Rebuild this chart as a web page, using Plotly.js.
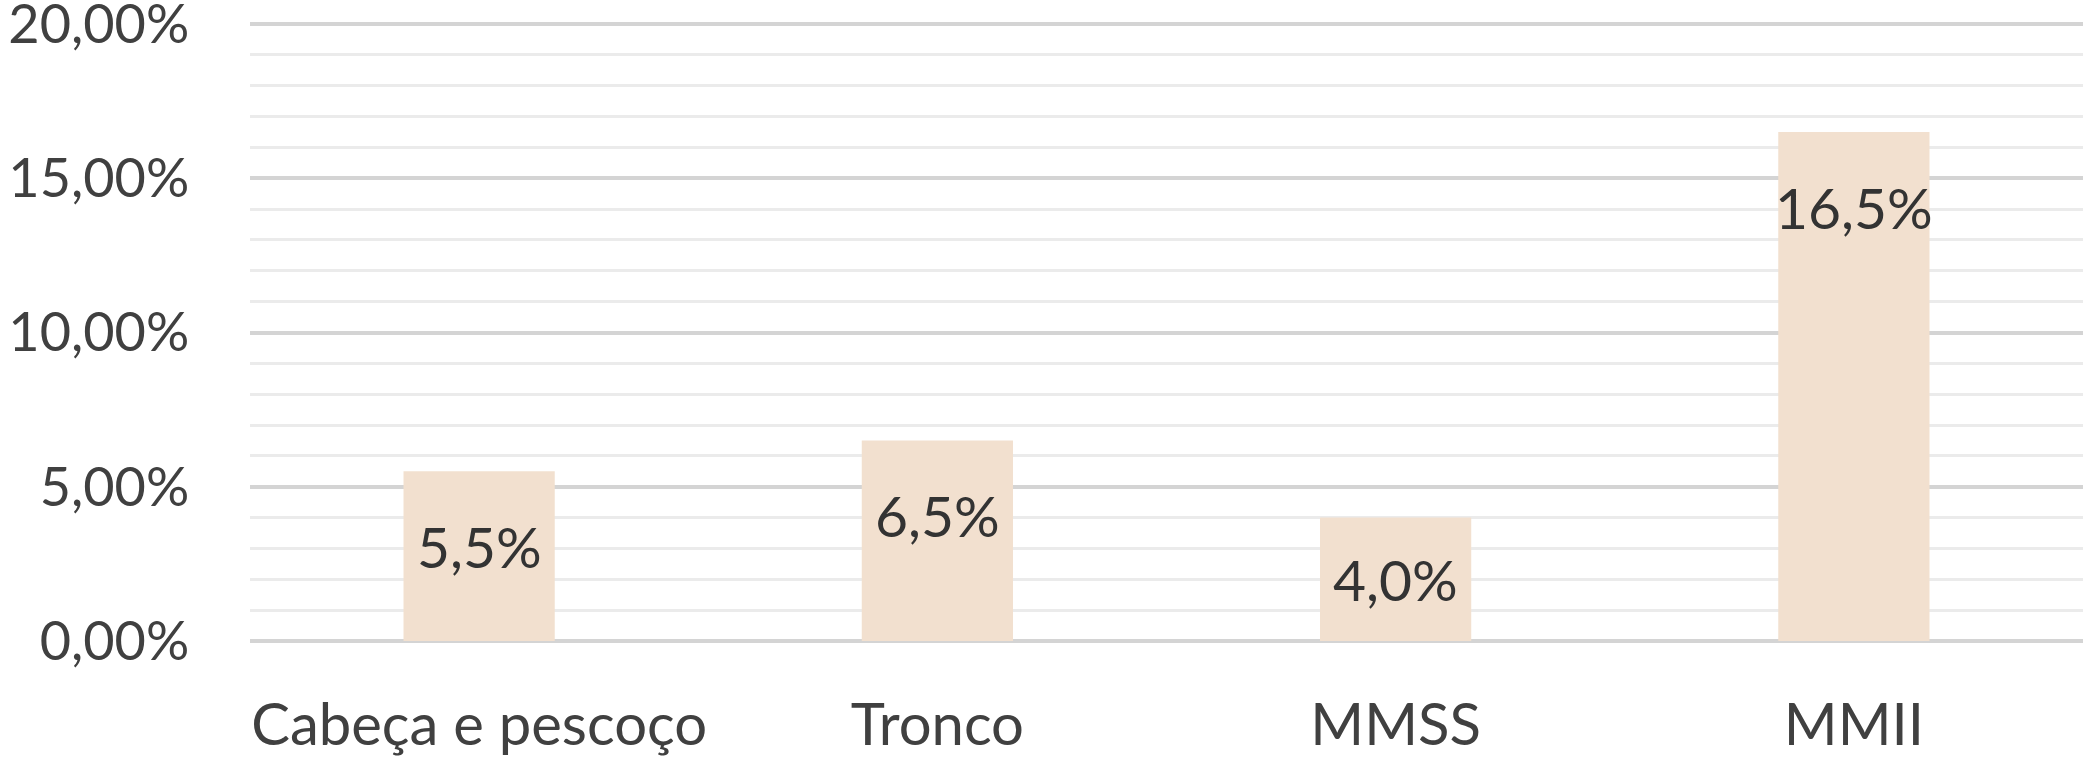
<!DOCTYPE html>
<html>
<head>
<meta charset="utf-8">
<script src="https://cdn.plot.ly/plotly-3.0.1.min.js"></script>
<style>html,body{margin:0;padding:0;background:#fff;}#chart{width:2091px;height:758px;}</style>
</head>
<body>
<div id="chart"></div>
<script>
const categories = ["Cabeça e pescoço", "Tronco", "MMSS", "MMII"];
const values = [0.055, 0.065, 0.040, 0.165];
const yTickVals = [0, 0.05, 0.10, 0.15, 0.20];
const yMinorVals = [0.01, 0.02, 0.03, 0.04, 0.06, 0.07, 0.08, 0.09, 0.11, 0.12, 0.13, 0.14, 0.16, 0.17, 0.18, 0.19];

const font = "Lato, 'Open Sans', sans-serif";
const textColor = "#404040";

const trace = {
  type: "bar",
  x: categories,
  y: values,
  width: 0.33,
  marker: {color: "#F2E0CF", line: {width: 0}},
  hoverinfo: "skip"
};

// labels placed inside the bar near its end (centred if the bar is short)
const annotations = categories.map((c, i) => ({
  x: c, y: Math.max(values[i] - 0.0243, values[i] / 2), xref: "x", yref: "y",
  text: (values[i] * 100).toFixed(1).replace(".", ",") + "%",
  showarrow: false, yanchor: "middle",
  font: {family: font, size: 57, color: "#333333"}
}));

const layout = {
  width: 2091, height: 758,
  margin: {l: 250, r: 8, t: 12, b: 117},
  paper_bgcolor: "#ffffff", plot_bgcolor: "#ffffff",
  separators: ",.",
  showlegend: false,
  font: {family: font, size: 54, color: textColor},
  xaxis: {
    type: "category",
    showgrid: false, showline: false, zeroline: false,
    ticks: "outside", ticklen: 33, tickcolor: "rgba(0,0,0,0)",
    tickfont: {family: font, size: 58, color: textColor}
  },
  yaxis: {
    range: [0, 0.2039], tickmode: "array", tickvals: yTickVals, tickformat: ".2%",
    ticklabeloverflow: "allow",
    showgrid: true, gridcolor: "#D4D4D4", gridwidth: 4,
    zeroline: true, zerolinecolor: "#D4D4D4", zerolinewidth: 4,
    showline: false,
    ticks: "outside", ticklen: 49, tickcolor: "rgba(0,0,0,0)",
    tickfont: {family: font, size: 54, color: textColor},
    minor: {tickmode: "array", tickvals: yMinorVals, showgrid: true, gridcolor: "#EBEBEB", gridwidth: 3}
  },
  annotations: annotations
};

Plotly.newPlot("chart", [trace], layout, {displayModeBar: false, staticPlot: true});
</script>
</body>
</html>
